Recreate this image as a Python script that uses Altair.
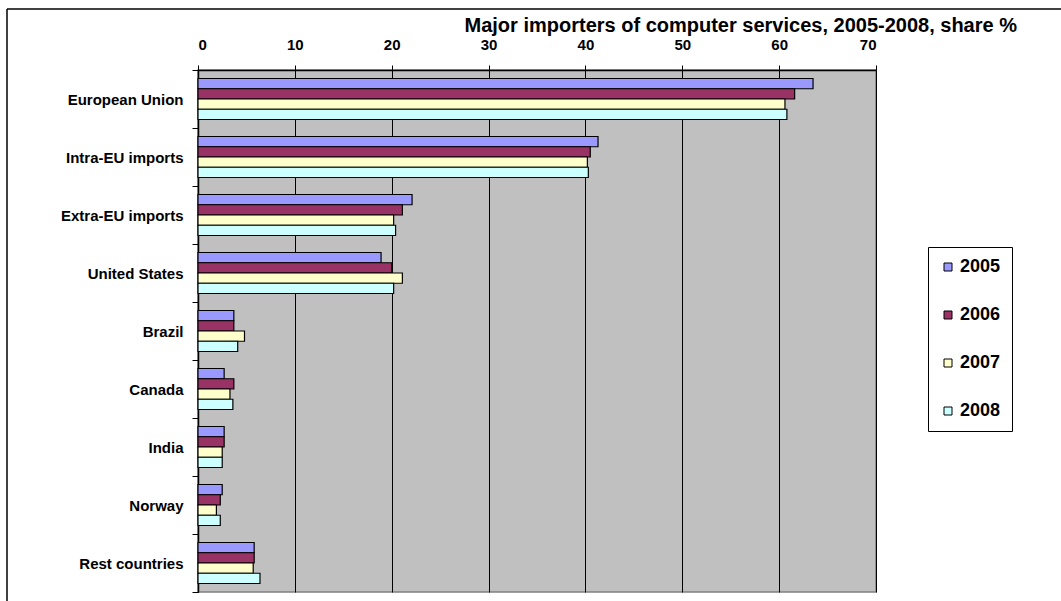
import altair as alt
import pandas as pd

categories = ["European Union", "Intra-EU imports", "Extra-EU imports", "United States",
              "Brazil", "Canada", "India", "Norway", "Rest countries"]
years = ["2005", "2006", "2007", "2008"]
v2005 = [63.5, 41.3, 22.1, 18.9, 3.7, 2.7, 2.7, 2.5, 5.8]
v2006 = [61.6, 40.5, 21.1, 20.0, 3.7, 3.7, 2.7, 2.3, 5.8]
v2007 = [60.6, 40.2, 20.2, 21.1, 4.8, 3.3, 2.5, 1.9, 5.7]
v2008 = [60.8, 40.3, 20.4, 20.2, 4.1, 3.6, 2.5, 2.3, 6.4]
colors = ["#9999FF", "#993366", "#FFFFCC", "#CCFFFF"]
x_ticks = [0, 10, 20, 30, 40, 50, 60, 70]

rows = []
for yr, vals in zip(years, [v2005, v2006, v2007, v2008]):
    for c, v in zip(categories, vals):
        rows.append({"region": c, "year": yr, "share": v})
df = pd.DataFrame(rows)

FONT = "Liberation Sans"

bars = alt.Chart(df).mark_bar(stroke="black", strokeWidth=1.2).encode(
    x=alt.X("share:Q",
            scale=alt.Scale(domain=[0, 70], nice=False, zero=True),
            axis=alt.Axis(orient="top", values=x_ticks, title=None, grid=True,
                          gridColor="black", gridWidth=1, gridOpacity=1,
                          domainColor="black", domainWidth=1.5, tickColor="black",
                          tickSize=5, labelFont=FONT, labelFontSize=15,
                          labelFontWeight="bold", labelColor="black", labelPadding=13)),
    y=alt.Y("region:N", sort=categories,
            scale=alt.Scale(paddingInner=0, paddingOuter=0),
            axis=alt.Axis(title=None, tickBand="extent", tickSize=6, tickColor="black",
                          domainColor="black", domainWidth=1.5, labelFont=FONT,
                          labelFontSize=15, labelFontWeight="bold", labelColor="black",
                          labelPadding=9, labelLimit=300)),
    yOffset=alt.YOffset("year:N", sort=years,
                        scale=alt.Scale(paddingInner=0, paddingOuter=0.83)),
    color=alt.Color("year:N",
                    scale=alt.Scale(domain=years, range=colors),
                    legend=alt.Legend(title=None, orient="none", legendX=730, legendY=177,
                                      fillColor="white", strokeColor="black", padding=11,
                                      rowPadding=30, symbolType="square", symbolSize=64,
                                      symbolStrokeColor="black", symbolStrokeWidth=1,
                                      symbolOpacity=1, labelFont=FONT, labelFontSize=18,
                                      labelFontWeight="bold", labelColor="black",
                                      labelOffset=3)),
)

frame_df = pd.DataFrame({"k": [0]})
frame_top = alt.Chart(frame_df).mark_rule(color="black", strokeWidth=1.5).encode(
    x=alt.value(-191), x2=alt.value(900), y=alt.value(-61))
frame_left = alt.Chart(frame_df).mark_rule(color="black", strokeWidth=1.5).encode(
    x=alt.value(-191), y=alt.value(-61), y2=alt.value(540))

chart = alt.layer(bars, frame_top, frame_left).properties(
    width=678, height=522,
    background="white",
    autosize=alt.AutoSizeParams(type="none"),
    padding={"left": 198, "top": 70, "right": 185, "bottom": 9},
    title=alt.TitleParams("Major importers of computer services, 2005-2008, share %",
                          anchor="end", frame="group", font=FONT, fontSize=20,
                          fontWeight="bold", color="black", dx=141, dy=28, offset=0),
).configure_view(fill="#C0C0C0", stroke="#808080", strokeWidth=1.5)

chart.save("out.html", embed_options={"renderer": "svg", "actions": False})
